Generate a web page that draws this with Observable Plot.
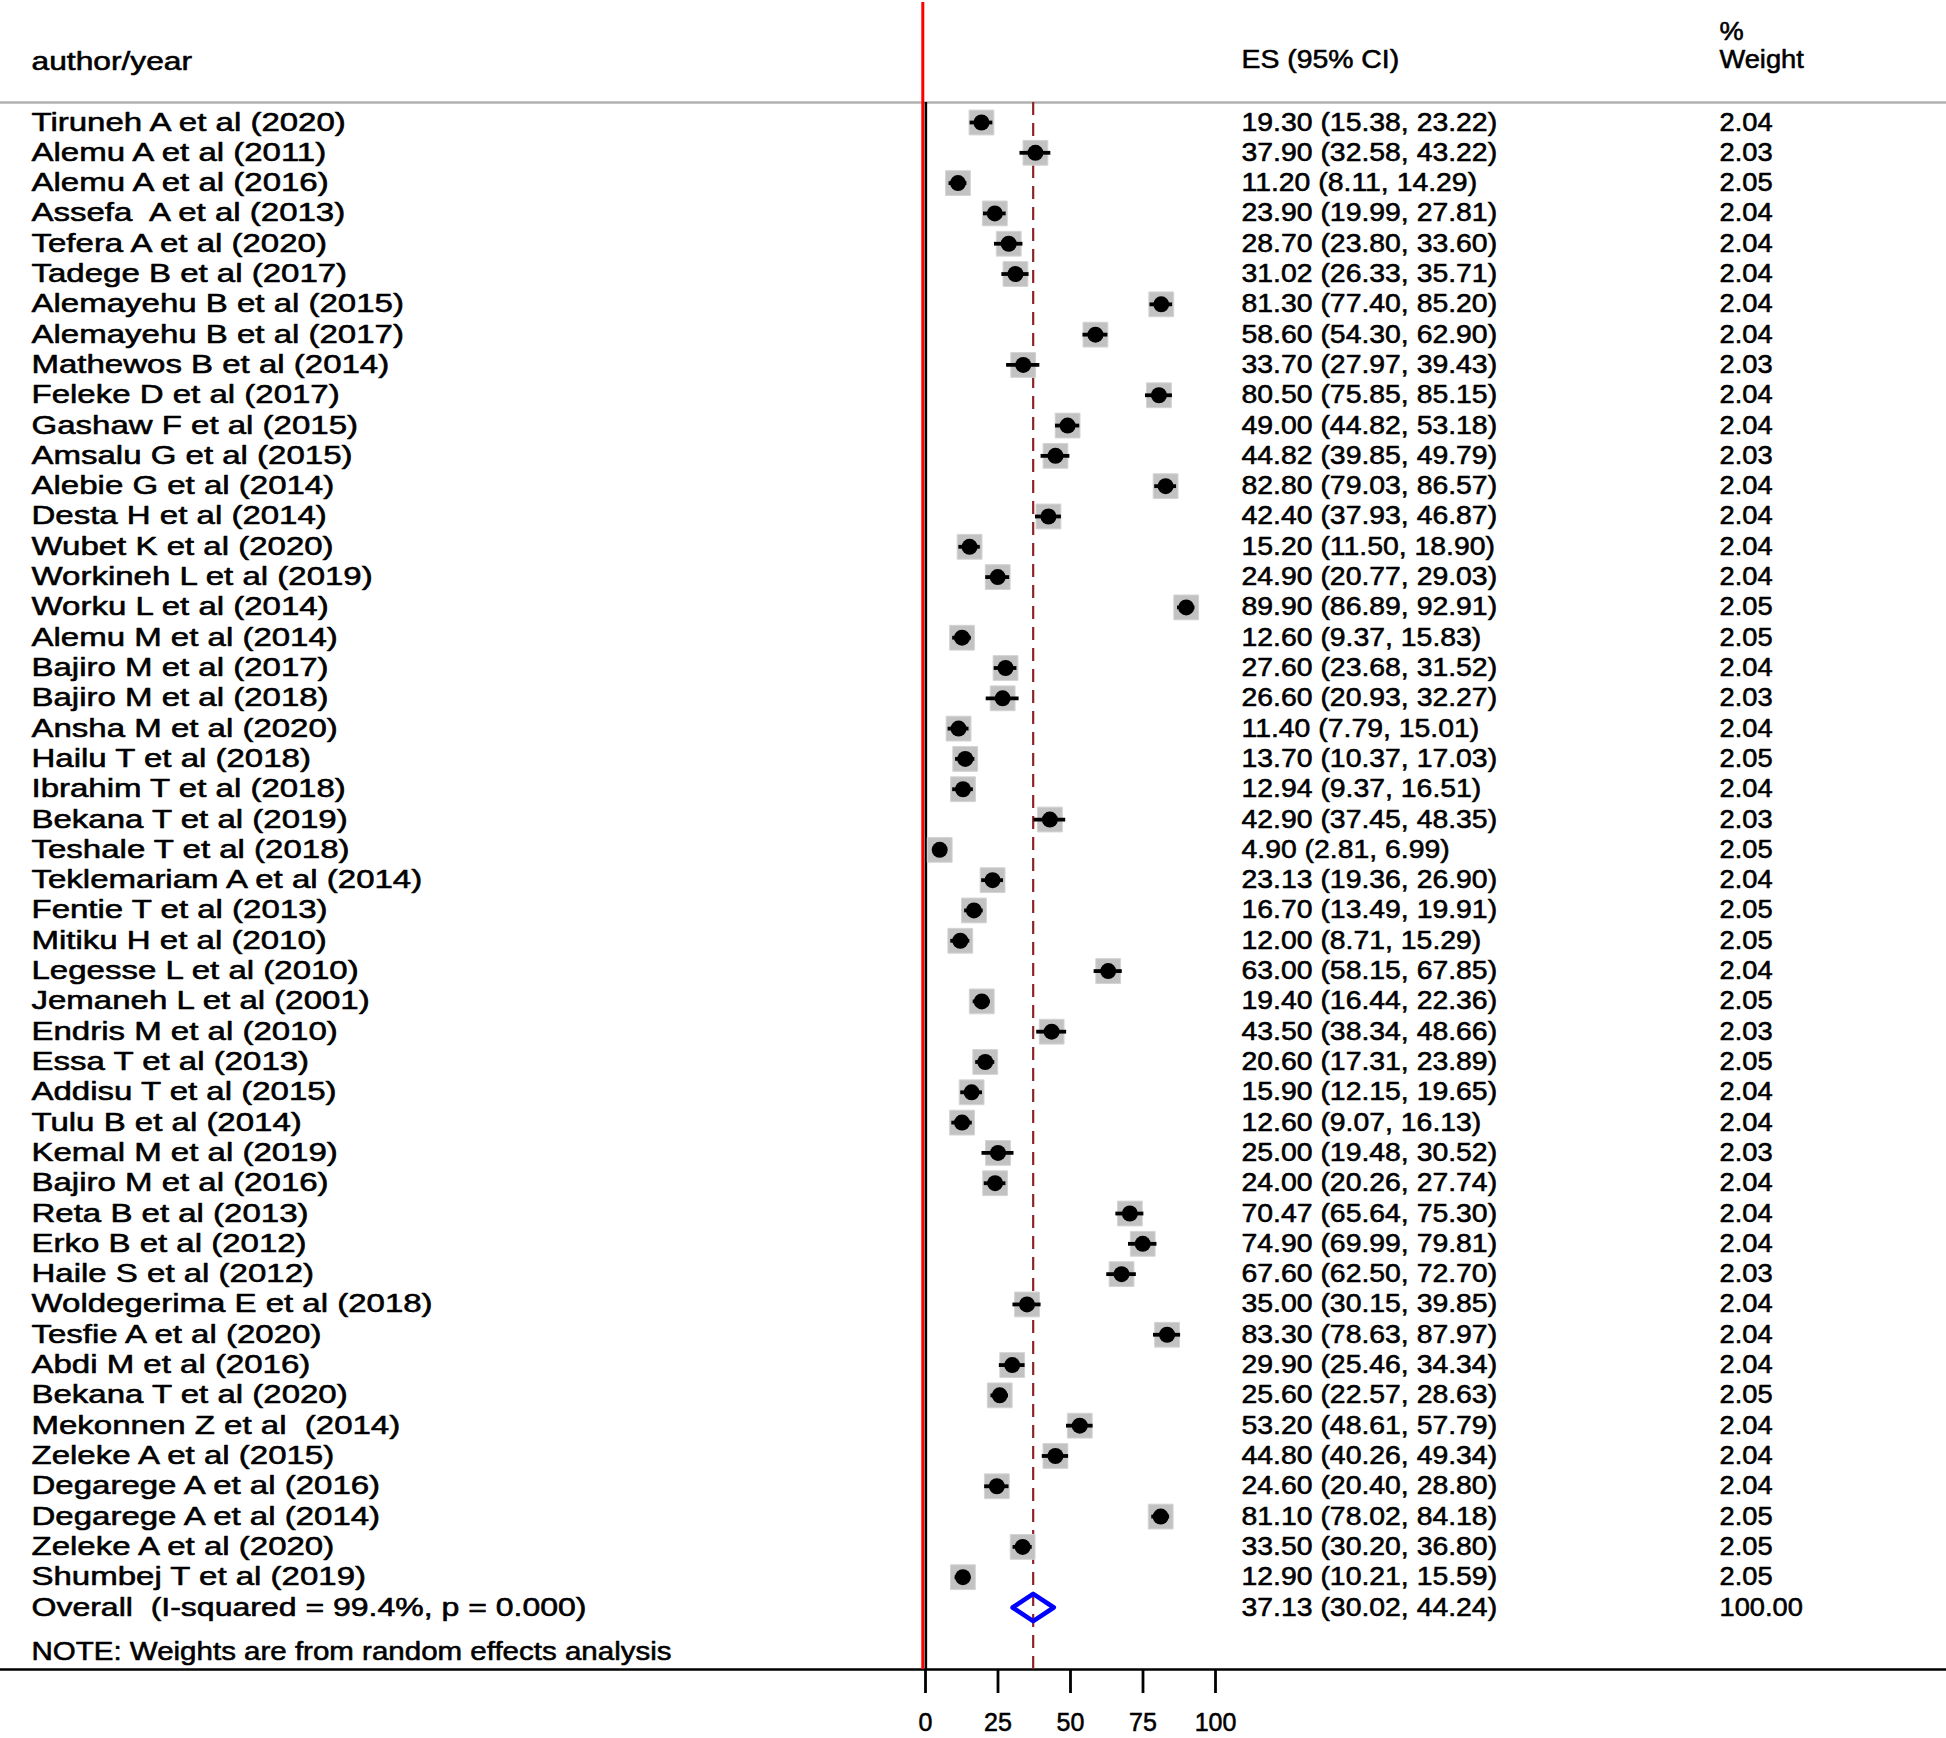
<!DOCTYPE html>
<html>
<head>
<meta charset="utf-8">
<script src="https://cdn.jsdelivr.net/npm/d3@7"></script>
<script src="https://cdn.jsdelivr.net/npm/@observablehq/plot@0.6"></script>
<style>
  html, body { margin: 0; padding: 0; background: #fff; }
  svg text { white-space: pre; }
</style>
</head>
<body>
<script>
const studies = [
  "Tiruneh A et al (2020)", "Alemu A et al (2011)", "Alemu A et al (2016)", "Assefa  A et al (2013)",
  "Tefera A et al (2020)", "Tadege B et al (2017)", "Alemayehu B et al (2015)", "Alemayehu B et al (2017)",
  "Mathewos B et al (2014)", "Feleke D et al (2017)", "Gashaw F et al (2015)", "Amsalu G et al (2015)",
  "Alebie G et al (2014)", "Desta H et al (2014)", "Wubet K et al (2020)", "Workineh L et al (2019)",
  "Worku L et al (2014)", "Alemu M et al (2014)", "Bajiro M et al (2017)", "Bajiro M et al (2018)",
  "Ansha M et al (2020)", "Hailu T et al (2018)", "Ibrahim T et al (2018)", "Bekana T et al (2019)",
  "Teshale T et al (2018)", "Teklemariam A et al (2014)", "Fentie T et al (2013)", "Mitiku H et al (2010)",
  "Legesse L et al (2010)", "Jemaneh L et al (2001)", "Endris M et al (2010)", "Essa T et al (2013)",
  "Addisu T et al (2015)", "Tulu B et al (2014)", "Kemal M et al (2019)", "Bajiro M et al (2016)",
  "Reta B et al (2013)", "Erko B et al (2012)", "Haile S et al (2012)", "Woldegerima E et al (2018)",
  "Tesfie A et al (2020)", "Abdi M et al (2016)", "Bekana T et al (2020)", "Mekonnen Z et al  (2014)",
  "Zeleke A et al (2015)", "Degarege A et al (2016)", "Degarege A et al (2014)", "Zeleke A et al (2020)",
  "Shumbej T et al (2019)"
];
const esValues = [
  19.30, 37.90, 11.20, 23.90, 28.70, 31.02, 81.30, 58.60, 33.70, 80.50, 49.00, 44.82, 82.80, 42.40,
  15.20, 24.90, 89.90, 12.60, 27.60, 26.60, 11.40, 13.70, 12.94, 42.90, 4.90, 23.13, 16.70, 12.00,
  63.00, 19.40, 43.50, 20.60, 15.90, 12.60, 25.00, 24.00, 70.47, 74.90, 67.60, 35.00, 83.30, 29.90,
  25.60, 53.20, 44.80, 24.60, 81.10, 33.50, 12.90
];
const ciLow = [
  15.38, 32.58, 8.11, 19.99, 23.80, 26.33, 77.40, 54.30, 27.97, 75.85, 44.82, 39.85, 79.03, 37.93,
  11.50, 20.77, 86.89, 9.37, 23.68, 20.93, 7.79, 10.37, 9.37, 37.45, 2.81, 19.36, 13.49, 8.71,
  58.15, 16.44, 38.34, 17.31, 12.15, 9.07, 19.48, 20.26, 65.64, 69.99, 62.50, 30.15, 78.63, 25.46,
  22.57, 48.61, 40.26, 20.40, 78.02, 30.20, 10.21
];
const ciHigh = [
  23.22, 43.22, 14.29, 27.81, 33.60, 35.71, 85.20, 62.90, 39.43, 85.15, 53.18, 49.79, 86.57, 46.87,
  18.90, 29.03, 92.91, 15.83, 31.52, 32.27, 15.01, 17.03, 16.51, 48.35, 6.99, 26.90, 19.91, 15.29,
  67.85, 22.36, 48.66, 23.89, 19.65, 16.13, 30.52, 27.74, 75.30, 79.81, 72.70, 39.85, 87.97, 34.34,
  28.63, 57.79, 49.34, 28.80, 84.18, 36.80, 15.59
];
const weights = [
  2.04, 2.03, 2.05, 2.04, 2.04, 2.04, 2.04, 2.04, 2.03, 2.04, 2.04, 2.03, 2.04, 2.04,
  2.04, 2.04, 2.05, 2.05, 2.04, 2.03, 2.04, 2.05, 2.04, 2.03, 2.05, 2.04, 2.05, 2.05,
  2.04, 2.05, 2.03, 2.05, 2.04, 2.04, 2.03, 2.04, 2.04, 2.04, 2.03, 2.04, 2.04, 2.04,
  2.05, 2.04, 2.04, 2.04, 2.05, 2.05, 2.05
];
const overallLabel = "Overall  (I-squared = 99.4%, p = 0.000)";
const overallES = 37.13, overallLow = 30.02, overallHigh = 44.24, overallWeight = 100.00;
const headerStudy = "author/year", headerES = "ES (95% CI)", headerPct = "%", headerWeight = "Weight";
const noteText = "NOTE: Weights are from random effects analysis";
const xTicks = [0, 25, 50, 75, 100];

const f2 = v => v.toFixed(2);
const rows = studies.map((s, i) => ({
  label: s, es: esValues[i], lo: ciLow[i], hi: ciHigh[i], w: weights[i], row: i,
  esText: `${f2(esValues[i])} (${f2(ciLow[i])}, ${f2(ciHigh[i])})`, wText: f2(weights[i])
}));
const overallRow = studies.length;
const overall = {
  label: overallLabel, row: overallRow,
  esText: `${f2(overallES)} (${f2(overallLow)}, ${f2(overallHigh)})`, wText: f2(overallWeight)
};
const dh = 0.45;
const diamond = [
  {x: overallLow, y: overallRow}, {x: overallES, y: overallRow - dh},
  {x: overallHigh, y: overallRow}, {x: overallES, y: overallRow + dh}
];
const textRows = [...rows, overall];
const headers = [
  {t: headerStudy, col: "lab", row: -2.0},
  {t: headerES, col: "es", row: -2.06},
  {t: headerPct, col: "w", row: -2.98},
  {t: headerWeight, col: "w", row: -2.06}
];
const colDx = {lab: 31, es: 1241, w: 1719};
const font = "Liberation Sans, Arial, Helvetica, sans-serif";
const fs = 25;
const tStroke = {stroke: "#000", strokeWidth: 0.55};

const plot = Plot.plot({
  width: 1946,
  height: 1738,
  marginLeft: 0, marginRight: 0, marginTop: 102, marginBottom: 69,
  style: {fontFamily: font, background: "#fff", color: "#000"},
  x: {domain: [0, 100], range: [925, 1215], axis: null},
  y: {domain: [0, 49], range: [122, 1607], axis: null},
  marks: [
    Plot.frame({anchor: "top", stroke: "#b0b0b0", strokeWidth: 2.5}),
    Plot.frame({anchor: "bottom", stroke: "#000", strokeWidth: 2.5}),
    Plot.ruleX([0], {stroke: "#ff0000", strokeWidth: 3, dx: -2.7, insetTop: -100}),
    Plot.ruleX([0], {stroke: "#000", strokeWidth: 2.5, dx: 0.4}),
    Plot.ruleX([overallES], {stroke: "#8e2428", strokeWidth: 2.2, strokeDasharray: "13,8"}),
    Plot.dot(rows, {x: "es", y: "row", symbol: "square", r: 14, fill: "#c2c2c2", stroke: "#d4d4d4", strokeWidth: 1}),
    Plot.ruleY(rows, {x1: "lo", x2: "hi", y: "row", stroke: "#000", strokeWidth: 3.8}),
    Plot.dot(rows, {x: "es", y: "row", symbol: "circle", r: 8, fill: "#000"}),
    Plot.line(diamond, {x: "x", y: "y", curve: "linear-closed", stroke: "#0000ff", strokeWidth: 4.5, fill: "none"}),
    Plot.text(rows, {y: "row", text: "label", frameAnchor: "left", textAnchor: "start", dx: colDx.lab, fontSize: fs, fill: "#000", ...tStroke, className: "lab"}),
    Plot.text([overall], {y: "row", text: "label", frameAnchor: "left", textAnchor: "start", dx: colDx.lab, fontSize: fs, fill: "#000", ...tStroke, className: "ovl"}),
    Plot.text(textRows, {y: "row", text: "esText", frameAnchor: "left", textAnchor: "start", dx: colDx.es, fontSize: fs, fill: "#000", ...tStroke, className: "esc"}),
    Plot.text(textRows, {y: "row", text: "wText", frameAnchor: "left", textAnchor: "start", dx: colDx.w, fontSize: fs, fill: "#000", ...tStroke, className: "wc"}),
    Plot.text(headers.filter(h => h.col === "lab"), {y: "row", text: "t", frameAnchor: "left", textAnchor: "start", dx: colDx.lab, fontSize: fs, fill: "#000", ...tStroke, className: "hdr"}),
    Plot.text(headers.filter(h => h.col === "es"), {y: "row", text: "t", frameAnchor: "left", textAnchor: "start", dx: colDx.es, fontSize: fs, fill: "#000", ...tStroke, className: "esc"}),
    Plot.text(headers.filter(h => h.col === "w"), {y: "row", text: "t", frameAnchor: "left", textAnchor: "start", dx: colDx.w, fontSize: fs, fill: "#000", ...tStroke, className: "wc"}),
    Plot.text([noteText], {text: d => d, frameAnchor: "bottom-left", textAnchor: "start", dx: colDx.lab, dy: -10, fontSize: fs, fill: "#000", ...tStroke, className: "note"}),
    Plot.axisX({ticks: xTicks, anchor: "bottom", tickSize: 24, tickPadding: 20, fontSize: 25, strokeWidth: 2.8, stroke: "#000", fill: "#000", tickFormat: d => String(d)})
  ]
});
document.body.append(plot);

const stretch = {lab: 1.32, ovl: 1.28, hdr: 1.27, esc: 1.135, wc: 1.09, note: 1.18};
for (const [cls, k] of Object.entries(stretch)) {
  plot.querySelectorAll(`g.${cls} text`).forEach(t => {
    const L = t.getComputedTextLength();
    if (L > 0) {
      t.setAttribute("textLength", (L * k).toFixed(1));
      t.setAttribute("lengthAdjust", "spacingAndGlyphs");
    }
  });
}
plot.querySelectorAll("g[aria-label='x-axis tick label'] text").forEach(t => {
  t.setAttribute("stroke", "#000");
  t.setAttribute("stroke-width", "0.55");
});
</script>
</body>
</html>
